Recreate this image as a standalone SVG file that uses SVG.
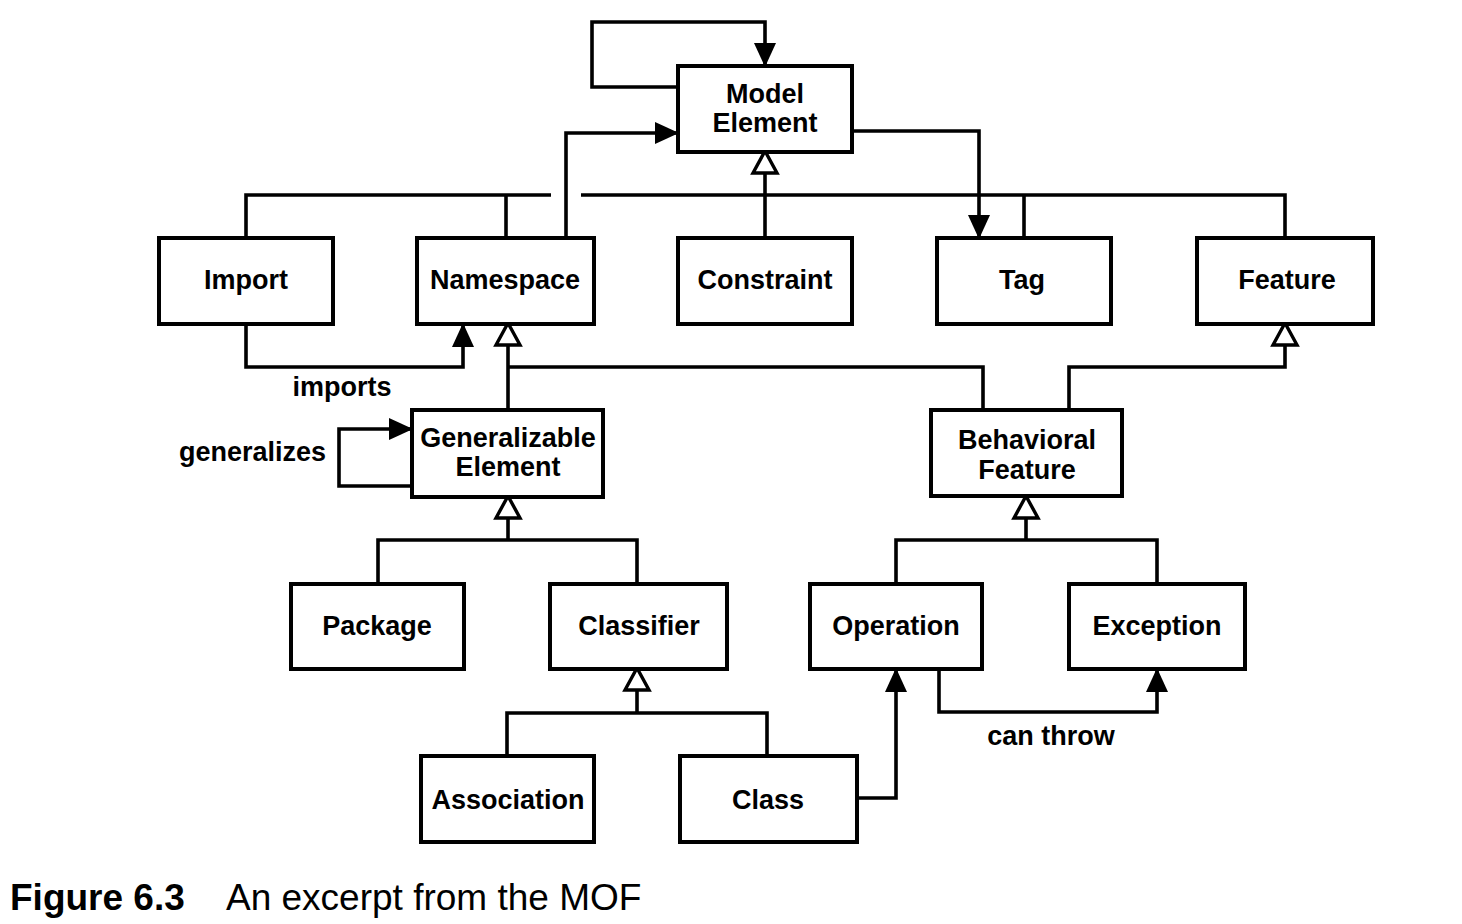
<svg xmlns="http://www.w3.org/2000/svg" width="1462" height="924" viewBox="0 0 1462 924">
<style>
.box{fill:#fff;stroke:#000;stroke-width:4}
.t{font-family:"Liberation Sans",Arial,Helvetica,sans-serif;font-weight:bold;font-size:27px;text-anchor:middle;fill:#000}
.lbl{font-family:"Liberation Sans",Arial,Helvetica,sans-serif;font-weight:bold;font-size:27px;fill:#000}
.c{fill:none;stroke:#000;stroke-width:3.6;stroke-linejoin:miter}
.arr{marker-end:url(#fa)}
.gen{marker-end:url(#ha)}
.cap{font-family:"Liberation Sans",Arial,sans-serif;font-size:37px;fill:#000}
</style>
<defs>
<marker id="fa" markerUnits="userSpaceOnUse" viewBox="0 0 24 22" markerWidth="24" markerHeight="22" refX="23" refY="11" orient="auto">
<path d="M0,0 L24,11 L0,22 z" fill="#000"/>
</marker>
<marker id="ha" markerUnits="userSpaceOnUse" viewBox="-3 -3 30 30" markerWidth="30" markerHeight="30" refX="21" refY="12" orient="auto">
<path d="M0,0 L22,12 L0,24 z" fill="#fff" stroke="#000" stroke-width="3.4"/>
</marker>
</defs>
<rect width="1462" height="924" fill="#fff"/>
<g id="connectors">
<path class="c arr" d="M678,87 H592 V22 H765 V66"/>
<path class="c arr" d="M566,238 V133 H678"/>
<path class="c arr" d="M852,131 H979 V238"/>
<path class="c gen" d="M765,238 V152"/>
<path class="c" d="M246,238 V195 H551"/>
<path class="c" d="M581,195 H1285 V238"/>
<path class="c" d="M506,195 V238"/>
<path class="c" d="M1024,195 V238"/>
<path class="c arr" d="M246,324 V367 H463 V324"/>
<path class="c gen" d="M508,410 V324"/>
<path class="c" d="M508,367 H983 V410"/>
<path class="c gen" d="M1069,410 V367 H1285 V324"/>
<path class="c arr" d="M412,486 H339 V429 H412"/>
<path class="c" d="M378,584 V540 H637 V584"/>
<path class="c gen" d="M508,540 V497"/>
<path class="c" d="M507,756 V713 H767 V756"/>
<path class="c gen" d="M637,713 V669"/>
<path class="c" d="M896,584 V540 H1157 V584"/>
<path class="c gen" d="M1026,540 V497"/>
<path class="c arr" d="M857,798 H896 V669"/>
<path class="c arr" d="M939,669 V712 H1157 V669"/>
<text class="lbl" x="342" y="396" text-anchor="middle">imports</text>
<text class="lbl" x="326" y="461" text-anchor="end">generalizes</text>
<text class="lbl" x="1051" y="745" text-anchor="middle">can throw</text>
</g>
<g id="model-element"><rect class="box" x="678" y="66" width="174" height="86"/><text class="t" x="765" y="103">Model</text><text class="t" x="765" y="132">Element</text></g>
<g id="import"><rect class="box" x="159" y="238" width="174" height="86"/><text class="t" x="246" y="289">Import</text></g>
<g id="namespace"><rect class="box" x="417" y="238" width="177" height="86"/><text class="t" x="505" y="289">Namespace</text></g>
<g id="constraint"><rect class="box" x="678" y="238" width="174" height="86"/><text class="t" x="765" y="289">Constraint</text></g>
<g id="tag"><rect class="box" x="937" y="238" width="174" height="86"/><text class="t" x="1022" y="289">Tag</text></g>
<g id="feature"><rect class="box" x="1197" y="238" width="176" height="86"/><text class="t" x="1287" y="289">Feature</text></g>
<g id="generalizable-element"><rect class="box" x="412" y="410" width="191" height="87"/><text class="t" x="508" y="447">Generalizable</text><text class="t" x="508" y="476">Element</text></g>
<g id="behavioral-feature"><rect class="box" x="931" y="410" width="191" height="86"/><text class="t" x="1027" y="449">Behavioral</text><text class="t" x="1027" y="479">Feature</text></g>
<g id="package"><rect class="box" x="291" y="584" width="173" height="85"/><text class="t" x="377" y="635">Package</text></g>
<g id="classifier"><rect class="box" x="550" y="584" width="177" height="85"/><text class="t" x="639" y="635">Classifier</text></g>
<g id="operation"><rect class="box" x="810" y="584" width="172" height="85"/><text class="t" x="896" y="635">Operation</text></g>
<g id="exception"><rect class="box" x="1069" y="584" width="176" height="85"/><text class="t" x="1157" y="635">Exception</text></g>
<g id="association"><rect class="box" x="421" y="756" width="173" height="86"/><text class="t" x="508" y="809">Association</text></g>
<g id="class"><rect class="box" x="680" y="756" width="177" height="86"/><text class="t" x="768" y="809">Class</text></g>
<g id="caption"><text class="cap" x="10" y="910" font-weight="bold" font-size="38">Figure 6.3</text><text class="cap" x="226" y="910">An excerpt from the MOF</text></g>
</svg>
